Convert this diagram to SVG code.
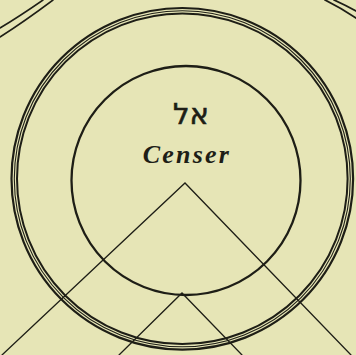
<svg xmlns="http://www.w3.org/2000/svg" width="356" height="355" viewBox="0 0 356 355">
<style>
.ln{fill:none;stroke:#1e1e16;stroke-linecap:round}
.thin{stroke-width:1.3}
.txt{fill:#1e1e16;text-anchor:middle}
</style>
<rect width="356" height="355" fill="#e6e5b6"/>
<g id="corner-arcs" class="ln">
<path d="M0,28 Q20,16 43,0" stroke-width="1.6"/>
<path d="M0,37 Q25,21 53,0" stroke-width="1.6"/>
<path d="M325,0 Q341,8 356,18" stroke-width="1.8"/>
<path d="M334,0 Q345,5 356,11" stroke-width="1.8"/>
</g>
<g id="outer-ring" class="ln">
<circle cx="182.3" cy="178.8" r="170.8" stroke-width="2.2"/>
<circle cx="182.3" cy="178.8" r="168" stroke-width="1.1"/>
<circle cx="182.3" cy="178.8" r="165.3" stroke-width="2"/>
</g>
<g id="censer">
<circle class="ln" cx="186" cy="180.5" r="114.5" stroke-width="2.3"/>
<text class="txt" x="191" y="124" font-family="DejaVu Sans, sans-serif" font-size="29" stroke="#1e1e16" stroke-width="0.6">אל</text>
<text class="txt" x="187" y="163" font-family="Liberation Serif, serif" font-size="26" font-style="italic" font-weight="bold" letter-spacing="2.2">Censer</text>
</g>
<g id="connectors" class="ln thin">
<path d="M2,355 L185,183 L351,355"/>
<path d="M119,355 L182,293 L242,355"/>
</g>
</svg>
